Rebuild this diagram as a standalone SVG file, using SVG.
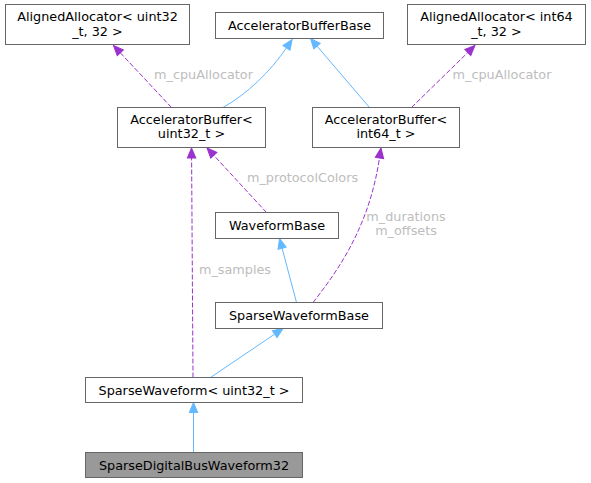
<svg xmlns="http://www.w3.org/2000/svg" width="591" height="483" viewBox="0 0 591 483">
<style>
.node rect{fill:#ffffff;stroke:#666666;stroke-width:1}
.node.hl rect{fill:#999999}
.node text{font-family:"DejaVu Sans",sans-serif;font-size:12.8px;fill:#000000;text-anchor:middle}
.inh{fill:none;stroke:#63b8ff;stroke-width:1}
.use{fill:none;stroke:#9a32cd;stroke-width:1;stroke-dasharray:5,2}
.lbl{font-family:"DejaVu Sans",sans-serif;font-size:12.8px;fill:#bdbdbd;text-anchor:middle}
</style>
<defs>
<marker id="ab" markerUnits="userSpaceOnUse" markerWidth="14" markerHeight="14" refX="0" refY="0" viewBox="-1 -7 14 14" orient="auto" overflow="visible">
<path d="M0,-4.2 L10,0 L0,4.2 Z" fill="#63b8ff" stroke="#63b8ff" stroke-width="1"/>
</marker>
<marker id="ap" markerUnits="userSpaceOnUse" markerWidth="14" markerHeight="14" refX="0" refY="0" viewBox="-1 -7 14 14" orient="auto" overflow="visible">
<path d="M0,-4.2 L10,0 L0,4.2 Z" fill="#9a32cd" stroke="#9a32cd" stroke-width="1"/>
</marker>
</defs>
<rect width="591" height="483" fill="#ffffff"/>
<g id="edges">
<path class="use" d="M171.5,107.5 L120.3,52.8" marker-end="url(#ap)"/>
<text class="lbl" x="203.5" y="79">m_cpuAllocator</text>
<path class="inh" d="M223,107.5 C247,94 270,72 286.5,47.8" marker-end="url(#ab)"/>
<path class="inh" d="M369.5,107.5 L317,46.1" marker-end="url(#ab)"/>
<path class="use" d="M411.5,107.5 L467.8,52.5" marker-end="url(#ap)"/>
<text class="lbl" x="502" y="79">m_cpuAllocator</text>
<path class="use" d="M266.5,212.5 L213.8,155.3" marker-end="url(#ap)"/>
<text class="lbl" x="302.5" y="182">m_protocolColors</text>
<path class="use" d="M193,377.5 L191.6,158" marker-end="url(#ap)"/>
<text class="lbl" x="235" y="274">m_samples</text>
<path class="use" d="M313,302.5 C345,262 370,220 379.5,158" marker-end="url(#ap)"/>
<text class="lbl" x="406" y="221">m_durations</text>
<text class="lbl" x="406" y="235">m_offsets</text>
<path class="inh" d="M296.5,302.5 L282.1,248.2" marker-end="url(#ab)"/>
<path class="inh" d="M210.5,377.5 L274.7,334.1" marker-end="url(#ab)"/>
<path class="inh" d="M193.5,452.5 L193.5,412.5" marker-end="url(#ab)"/>
</g>
<g id="n_alignedalloc_u32" class="node">
<rect x="5.5" y="4.5" width="184" height="40"/>
<text x="97.5" y="20.5">AlignedAllocator&lt; uint32</text>
<text x="97.5" y="35.5">_t, 32 &gt;</text>
</g>
<g id="n_accelbufferbase" class="node">
<rect x="215.5" y="12.5" width="168" height="26"/>
<text x="299.5" y="29.5">AcceleratorBufferBase</text>
</g>
<g id="n_alignedalloc_i64" class="node">
<rect x="407.5" y="4.5" width="178" height="40"/>
<text x="496.5" y="20.5">AlignedAllocator&lt; int64</text>
<text x="496.5" y="35.5">_t, 32 &gt;</text>
</g>
<g id="n_accelbuffer_u32" class="node">
<rect x="117.5" y="107.5" width="148" height="40"/>
<text x="191.5" y="123.5">AcceleratorBuffer&lt;</text>
<text x="191.5" y="138">uint32_t &gt;</text>
</g>
<g id="n_accelbuffer_i64" class="node">
<rect x="312.5" y="107.5" width="147" height="40"/>
<text x="386" y="123.5">AcceleratorBuffer&lt;</text>
<text x="386" y="138">int64_t &gt;</text>
</g>
<g id="n_waveformbase" class="node">
<rect x="215.5" y="212.5" width="123" height="26"/>
<text x="277" y="229.5">WaveformBase</text>
</g>
<g id="n_sparsewaveformbase" class="node">
<rect x="215.5" y="302.5" width="167" height="26"/>
<text x="299" y="319.5">SparseWaveformBase</text>
</g>
<g id="n_sparsewaveform_u32" class="node">
<rect x="85.5" y="377.5" width="217" height="25"/>
<text x="194" y="394.5">SparseWaveform&lt; uint32_t &gt;</text>
</g>
<g id="n_sparsedigitalbus" class="node hl">
<rect x="85.5" y="452.5" width="217" height="25"/>
<text x="194" y="469.5">SparseDigitalBusWaveform32</text>
</g>
</svg>
